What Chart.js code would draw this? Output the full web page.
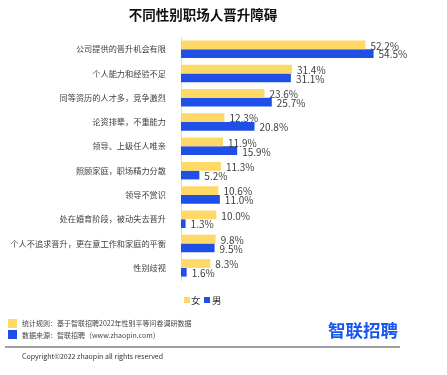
<!DOCTYPE html>
<html>
<head>
<meta charset="utf-8">
<script src="https://cdn.jsdelivr.net/npm/chart.js@4"></script>
<style>
html,body{margin:0;padding:0;background:#fff;width:447px;height:375px;overflow:hidden;font-family:"Noto Sans CJK SC","Noto Sans",sans-serif;}
#wrap{position:relative;width:447px;height:375px;}
#c{position:absolute;left:0;top:0;}
.abs{position:absolute;white-space:nowrap;}
#title{left:0;width:406px;top:5px;text-align:center;font-size:13.5px;font-weight:bold;color:#111;line-height:18px;}
.sq{position:absolute;}
.ft{font-size:7px;color:#444;line-height:10px;}
</style>
</head>
<body>
<div id="wrap">
<canvas id="c" width="447" height="375"></canvas>
<div id="title" class="abs">不同性别职场人晋升障碍</div>
<div class="sq" style="left:184px;top:297px;width:6px;height:6px;background:#FFD966"></div>
<div class="abs" style="left:191px;top:293px;font-size:9.5px;color:#333;line-height:14px;">女</div>
<div class="sq" style="left:204px;top:297px;width:6px;height:6px;background:#1F4FE6"></div>
<div class="abs" style="left:212px;top:293px;font-size:9.5px;color:#333;line-height:14px;">男</div>
<div class="sq" style="left:8px;top:319px;width:9px;height:9px;background:#FFD966"></div>
<div class="abs ft" style="left:22px;top:318px;">统计规则：基于智联招聘2022年性别平等问卷调研数据</div>
<div class="sq" style="left:8px;top:330px;width:9px;height:9px;background:#1F4FE6"></div>
<div class="abs ft" style="left:22px;top:330px;">数据来源：智联招聘（www.zhaopin.com）</div>
<div class="abs" style="left:328px;top:319px;font-size:17.5px;font-weight:bold;color:#1A56F0;line-height:22px;">智联招聘</div>
<div class="abs" style="left:5px;top:346px;width:395px;height:1.5px;background:#a0a0a0"></div>
<div class="abs ft" style="left:22px;top:351px;color:#333;">Copyright©2022 zhaopin all rights reserved</div>
</div>
<script>
const categories = ["公司提供的晋升机会有限","个人能力和经验不足","同等资历的人才多，竞争激烈","论资排辈，不重能力","领导、上级任人唯亲","照顾家庭，职场精力分散","领导不赏识","处在婚育阶段，被动失去晋升","个人不追求晋升，更在意工作和家庭的平衡","性别歧视"];
const female = [52.2,31.4,23.6,12.3,11.9,11.3,10.6,10.0,9.8,8.3];
const male = [54.5,31.1,25.7,20.8,15.9,5.2,11.0,1.3,9.5,1.6];
const seriesNames = ["女","男"];

const labelPlugin = {
  id:'valueLabels',
  afterDatasetsDraw(chart){
    const ctx = chart.ctx;
    ctx.save();
    ctx.font = '10px "Noto Sans CJK SC", "Noto Sans", sans-serif';
    ctx.fillStyle = '#404040';
    ctx.textBaseline = 'middle';
    ctx.textAlign = 'left';
    chart.data.datasets.forEach((ds,i)=>{
      const meta = chart.getDatasetMeta(i);
      meta.data.forEach((el,j)=>{
        ctx.fillText(ds.data[j].toFixed(1)+'%', el.x+5, el.y+1);
      });
    });
    ctx.restore();
  }
};

new Chart(document.getElementById('c'),{
  type:'bar',
  data:{
    labels:categories,
    datasets:[
      {label:seriesNames[0],data:female,backgroundColor:'#FFD966',categoryPercentage:0.72,barPercentage:1.0},
      {label:seriesNames[1],data:male,backgroundColor:'#1F4FE6',categoryPercentage:0.72,barPercentage:1.0}
    ]
  },
  options:{
    indexAxis:'y',
    responsive:false,
    animation:false,
    devicePixelRatio:1,
    layout:{padding:{left:0,right:54,top:37,bottom:95}},
    plugins:{legend:{display:false},tooltip:{enabled:false},title:{display:false}},
    scales:{
      x:{display:false,min:0,max:60},
      y:{
        afterFit(s){s.width=181;},
        grid:{display:false},
        border:{display:true,color:'#d9d9d9',width:1},
        ticks:{color:'#404040',padding:7,font:{size:8.2,family:'"Noto Sans CJK SC", "Noto Sans", sans-serif'}}
      }
    }
  },
  plugins:[labelPlugin]
});
</script>
</body>
</html>
